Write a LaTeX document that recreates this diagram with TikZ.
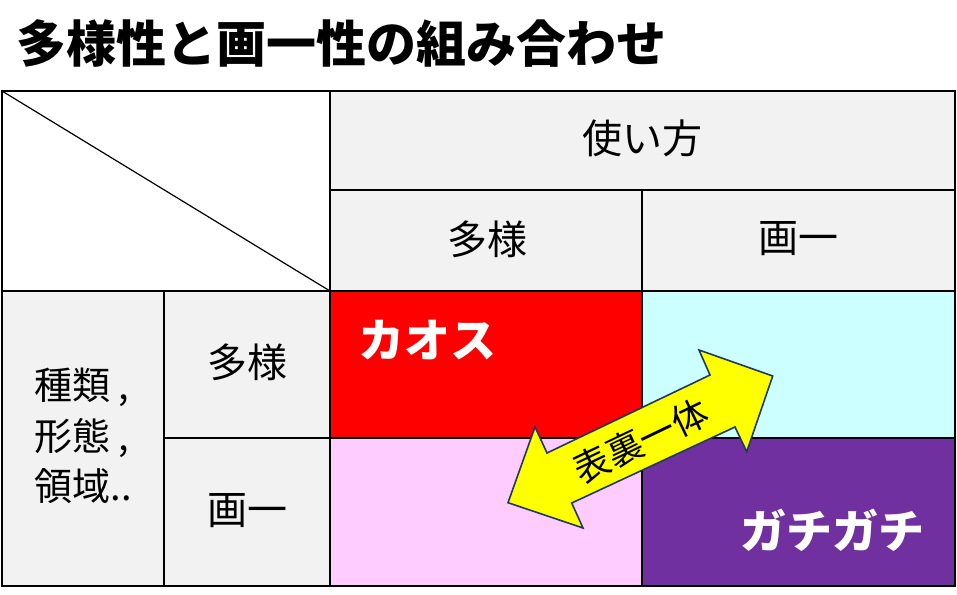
\documentclass[tikz,border=0pt]{standalone}
\usepackage{fontspec}
\setmainfont{Noto Sans CJK JP}
\definecolor{hdr}{RGB}{242,242,242}
\definecolor{chaos}{RGB}{255,0,0}
\definecolor{lcyan}{RGB}{204,255,255}
\definecolor{lpink}{RGB}{255,204,255}
\definecolor{purp}{RGB}{112,48,160}
\definecolor{yel}{RGB}{255,255,0}
\definecolor{arrline}{RGB}{31,56,100}
\tikzset{
  cell/.style={draw=black, line width=1.6pt, inner sep=0pt, outer sep=0pt},
  celltext/.style={inner sep=0pt, font=\fontsize{40}{48}\selectfont},
  bigtext/.style={inner sep=0pt, text=white, font=\fontsize{46}{50}\selectfont\bfseries},
}
\begin{document}
\begin{tikzpicture}[x=1pt,y=-1pt]
\useasboundingbox[fill=white] (0,0) rectangle (957,594);
% title
\node[anchor=west, inner sep=0pt, font=\fontsize{50}{56}\selectfont\bfseries] (title) at (16,43) {多様性と画一性の組み合わせ};
% cells
\path[cell, fill=white] (2,91) rectangle (330,291);
\path[cell, fill=hdr] (330,91) rectangle (955,190);
\path[cell, fill=hdr] (330,190) rectangle (642,291);
\path[cell, fill=hdr] (642,190) rectangle (955,291);
\path[cell, fill=hdr] (2,291) rectangle (164,586);
\path[cell, fill=hdr] (164,291) rectangle (330,438);
\path[cell, fill=hdr] (164,438) rectangle (330,586);
\path[cell, fill=chaos] (330,291) rectangle (642,438);
\path[cell, fill=lcyan] (642,291) rectangle (955,438);
\path[cell, fill=lpink] (330,438) rectangle (642,586);
\path[cell, fill=purp] (642,438) rectangle (955,586);
\coordinate (dA) at (2,91);
\coordinate (dB) at (330,291);
\draw[line width=1.2pt] (dA) -- (dB);
% texts
\node[celltext] (usage) at (642,138) {使い方};
\node[celltext] (hdiv) at (487,239) {多様};
\node[celltext] (huni) at (798,239) {画一};
\node[celltext] (rdiv) at (247,362) {多様};
\node[celltext] (runi) at (247,511) {画一};
\node[celltext, align=left, font=\fontsize{38}{50.5}\selectfont] (kinds) at (83,436) {種類 ,\\形態 ,\\領域..};
\node[bigtext] (chaos) at (427,340) {カオス};
\node[bigtext] (rigid) at (832,530) {ガチガチ};
% double arrow
\draw[fill=yel, draw=arrline, line width=1.6pt, line join=miter]
  (772.7,376) -- (746.7,451.7) -- (735,427) -- (571.7,503) -- (583,528) -- (508,502.7)
  -- (535,427) -- (547,453) -- (710,375) -- (699,350) -- cycle;
\node[inner sep=0pt, rotate=25.6, font=\fontsize{36}{40}\selectfont] (omote) at (641,441) {表裏一体};
\end{tikzpicture}
\end{document}
